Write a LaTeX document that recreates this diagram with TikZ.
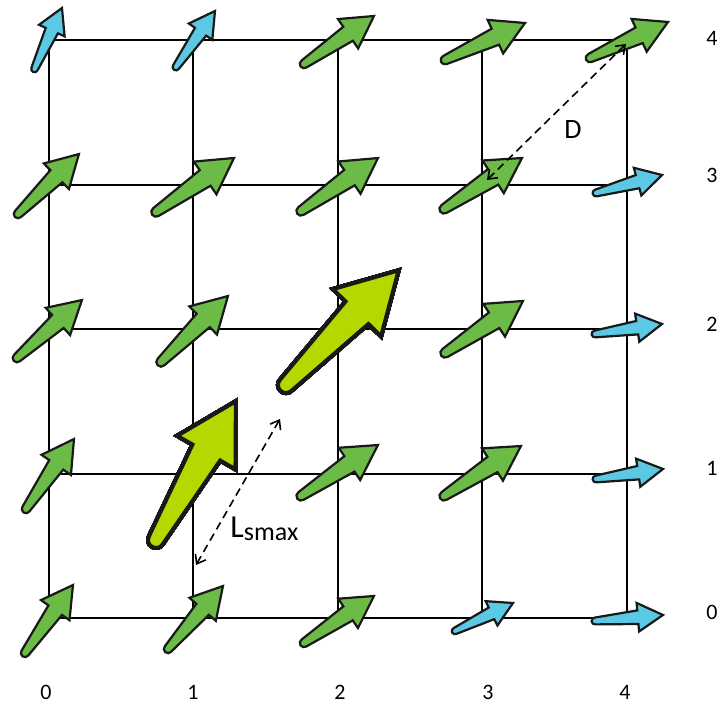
\documentclass[tikz,border=0pt]{standalone}
\usepackage{fontspec}
\setmainfont{Carlito}
\usetikzlibrary{arrows.meta,calc}
\definecolor{vgreen}{HTML}{6BBB46}
\definecolor{vblue}{HTML}{5BC8E4}
\definecolor{vlime}{HTML}{B5D800}
% fat tapered arrow from tail (#2) to tip (#3)
\newcommand{\fatarrow}[4][vec]{%
  \draw[#1,fill=#4] let \p1=($(#3)-(#2)$), \n1={atan2(\y1,\x1)}, \n2={veclen(\x1,\y1)} in
    [shift={(#2)},rotate=\n1]
    (0pt,{0.05*\n2*1pt}) -- ({0.63*\n2*1pt},{0.10*\n2*1pt}) -- ({0.63*\n2*1pt},{0.21*\n2*1pt})
    -- ({\n2*1pt},0pt) -- ({0.63*\n2*1pt},{-0.21*\n2*1pt}) -- ({0.63*\n2*1pt},{-0.10*\n2*1pt})
    -- (0pt,{-0.05*\n2*1pt}) arc[start angle=-90,end angle=-270,radius={0.05*\n2*1pt}] -- cycle;%
}

\begin{document}
\begin{tikzpicture}[x=0.5pt,y=-0.5pt,
   vec/.style={draw=black!90,line width=1.1pt,line join=miter},
   bigvec/.style={vec,line width=2pt},
   gridline/.style={line width=1pt},
   dim/.style={<->,>={Straight Barb[length=4pt,width=6pt]},line width=0.8pt,dash pattern=on 4pt off 2.5pt},
   lbl/.style={font=\fontsize{11}{13}\selectfont}]
\useasboundingbox (0,0) rectangle (720,705);
% Grid
\foreach \x in {49,193.5,338,482.5,627}
  \draw[gridline] (\x,40.5) -- (\x,618);
\foreach \y in {40.5,185,329.5,474,618}
  \draw[gridline] (49,\y) -- (627,\y);
% Vectors
\foreach \tx/\ty/\hx/\hy/\col in {
    34.5/69/62/8/vblue, 176/67/215/11/vblue, 304/64/374/16/vgreen, 445/60/525/23/vgreen, 590/58/668/22/vgreen,
    18/214/79/154/vgreen, 156/212/234/158/vgreen, 301/211/378/158/vgreen, 444/209/522/158/vgreen, 596/193/662/175/vblue,
    17/358/82/300/vgreen, 161/362/228/296/vgreen, 445/353/523/301/vgreen, 595/334/662/324/vblue,
    26/509/74/439/vgreen, 301/496/378/445/vgreen, 444/496/521/446/vgreen, 596/479/663/469/vblue,
    25/653/73/585/vgreen, 168/649/223/586/vgreen, 304/643/374/596/vgreen, 455/631/513/603/vblue, 595/621/663/615/vblue}
  \fatarrow{\tx,\ty}{\hx,\hy}{\col}
\fatarrow[bigvec]{156,540}{236,401}{vlime}
\fatarrow[bigvec]{286,385}{399,270}{vlime}
% Distances
\coordinate (ls0) at (196,565);
\coordinate (ls1) at (280,419);
\draw[dim] (ls0) -- (ls1);
\coordinate (d0) at (487,180);
\coordinate (d1) at (626,44);
\draw[dim] (d0) -- (d1);
\node[font=\fontsize{14}{16}\selectfont] (dlab) at (573,130) {D};
\node[anchor=base west,inner sep=0pt,font=\fontsize{16}{18}\selectfont] (lslab) at (230,538)
  {L\raisebox{-1.5pt}{\fontsize{13}{15}\selectfont smax}};
% Axis numbers
\foreach \x/\n in {46/0,193/1,340/2,488/3,625/4}
  \node[lbl] (c\n) at (\x,692) {\n};
\foreach \y/\n in {612/0,468/1,324/2,175/3,38/4}
  \node[lbl] (r\n) at (712,\y) {\n};
\end{tikzpicture}
\end{document}
